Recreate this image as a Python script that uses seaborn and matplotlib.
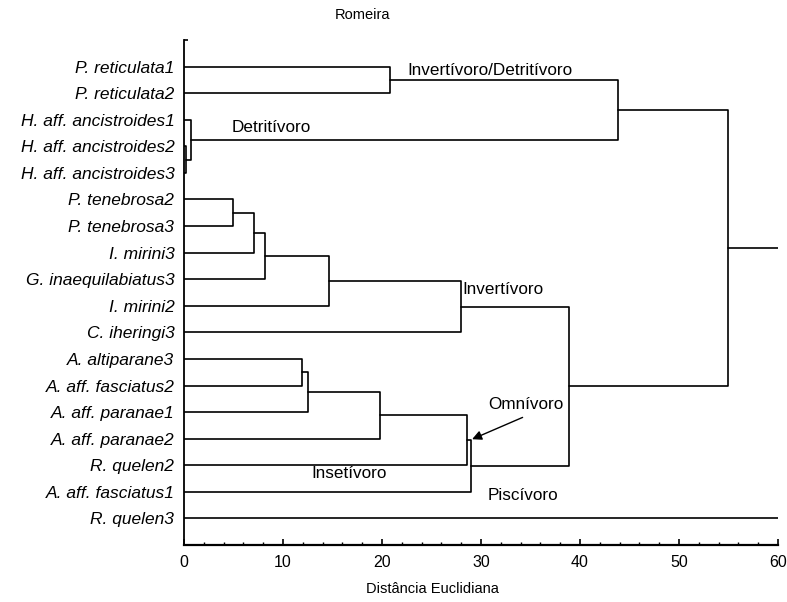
import matplotlib
matplotlib.use("Agg")
import matplotlib.pyplot as plt
from matplotlib.ticker import MultipleLocator, FixedLocator
import seaborn as sns
import pandas as pd

# Leaves, top to bottom
leaves = [
    "P. reticulata1", "P. reticulata2",
    "H. aff. ancistroides1", "H. aff. ancistroides2", "H. aff. ancistroides3",
    "P. tenebrosa2", "P. tenebrosa3", "I. mirini3", "G. inaequilabiatus3",
    "I. mirini2", "C. iheringi3",
    "A. altiparane3", "A. aff. fasciatus2", "A. aff. paranae1",
    "A. aff. paranae2", "R. quelen2", "A. aff. fasciatus1", "R. quelen3",
]

# Agglomeration steps: node ids 0..17 are leaves, new clusters get 18, 19, ...
merge_left = [3, 2, 0, 20, 5, 22, 23, 24, 25, 11, 27, 28, 29, 30, 26, 21, 33]
merge_right = [4, 18, 1, 19, 6, 7, 8, 9, 10, 12, 13, 14, 15, 16, 31, 32, 17]
merge_height = [0.2, 0.7, 20.8, 43.8, 4.9, 7.1, 8.15, 14.6, 28.0,
                11.9, 12.5, 19.8, 28.6, 29.0, 38.9, 54.9, 65.0]

# Group labels
group_labels = ["Invertívoro/Detritívoro", "Detritívoro", "Invertívoro",
                "Omnívoro", "Insetívoro", "Piscívoro"]
group_x = [22.6, 4.85, 28.1, 30.7, 12.9, 30.7]
group_y = [0.15, 2.3, 8.4, 12.7, 15.3, 16.15]

# Build the bracket paths of the dendrogram
pos = {i: (0.0, float(i)) for i in range(len(leaves))}
rows = []
for k, (a, b, h) in enumerate(zip(merge_left, merge_right, merge_height)):
    xa, ya = pos[a]
    xb, yb = pos[b]
    for x, y in [(xa, ya), (h, ya), (h, yb), (xb, yb)]:
        rows.append({"link": k, "dist": x, "leaf": y})
    pos[len(leaves) + k] = (h, (ya + yb) / 2)
links = pd.DataFrame(rows)

sns.set_style("ticks")
plt.rcParams["font.family"] = ["Liberation Sans", "DejaVu Sans"]
plt.rcParams.update({
    "text.color": "black",
    "axes.labelcolor": "black",
    "xtick.color": "black",
    "ytick.color": "black",
    "axes.edgecolor": "black",
})

fig = plt.figure(figsize=(7.87, 6.02), dpi=100)
ax = fig.add_axes([0.2338, 0.0947, 0.7548, 0.8389])

sns.lineplot(data=links, x="dist", y="leaf", units="link", estimator=None,
             sort=False, color="black", linewidth=1.2, ax=ax, legend=False)

ax.set_xlim(0, 60)
ax.set_ylim(18.0, -1.0)
ax.xaxis.set_major_locator(MultipleLocator(10))
ax.xaxis.set_minor_locator(MultipleLocator(2))
ax.tick_params(axis="x", which="major", direction="in", length=4, width=1.2,
               labelsize=11.5, pad=7)
ax.tick_params(axis="x", which="minor", direction="in", length=2, width=1.0)

ax.set_yticks(range(len(leaves)))
ax.set_yticklabels(leaves, fontstyle="italic", fontsize=12.5)
ax.tick_params(axis="y", which="major", length=0, pad=7)
ax.yaxis.set_minor_locator(FixedLocator([-1.0]))
ax.tick_params(axis="y", which="minor", direction="in", length=3, width=1.2)

for side in ["top", "right"]:
    ax.spines[side].set_visible(False)
ax.spines["left"].set_linewidth(1.3)
ax.spines["bottom"].set_linewidth(1.6)

ax.set_xlabel("Distância Euclidiana", fontsize=10.5, x=0.4175, labelpad=9)
ax.set_ylabel("")
fig.text(363 / 787, 1 - 15 / 602, "Romeira", ha="center", va="center",
         fontsize=10.5)

for txt, gx, gy in zip(group_labels, group_x, group_y):
    ax.text(gx, gy, txt, ha="left", va="center", fontsize=12.3)

ax.annotate("", xy=(29.1, 14.02), xytext=(34.2, 13.2),
            arrowprops=dict(arrowstyle="-|>", color="black", lw=1.0,
                            mutation_scale=14, shrinkA=0, shrinkB=0))

fig.savefig("out.png", dpi=100)
